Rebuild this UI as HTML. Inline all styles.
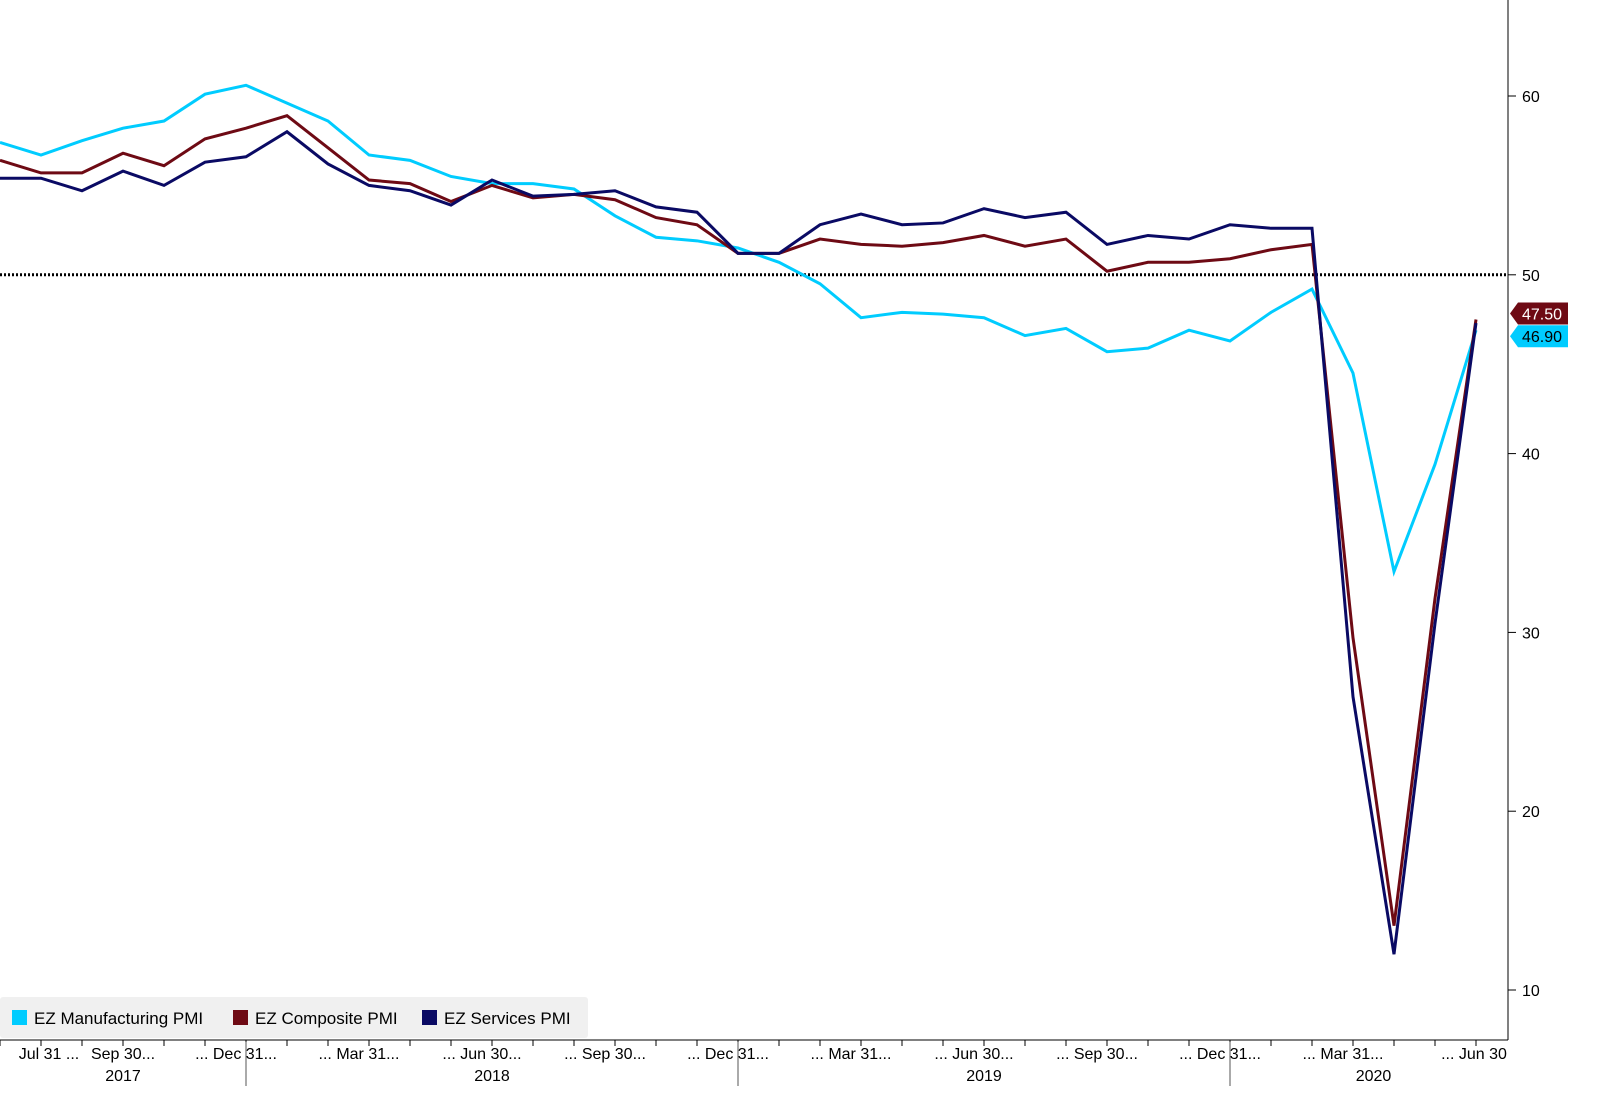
<!DOCTYPE html>
<html><head><meta charset="utf-8"><style>
body{margin:0;background:#fff;font-family:"Liberation Sans",sans-serif}
svg{display:block}
</style></head><body>
<svg id="c" width="1600" height="1108">
<line x1="1508" y1="0" x2="1508" y2="1040" stroke="#000" stroke-width="1"/>
<line x1="0" y1="1040" x2="1508" y2="1040" stroke="#000" stroke-width="1"/>
<g id="yt"></g><g id="xt"></g>
<line id="ref50" x1="0" x2="1508" stroke="#000" stroke-width="3" stroke-dasharray="2,2"/>
<g id="lines"></g><g id="tags"></g>
<g>
<rect x="0" y="997" width="588" height="41" fill="#f0f0f0" rx="3"/>
<g><rect x="12" y="1010" width="15" height="15" fill="#00ccff"/><text x="34" y="1024" font-size="17" fill="#000">EZ Manufacturing PMI</text></g>
<g><rect x="233" y="1010" width="15" height="15" fill="#6e0a14"/><text x="255" y="1024" font-size="17" fill="#000">EZ Composite PMI</text></g>
<g><rect x="422" y="1010" width="15" height="15" fill="#0a0a64"/><text x="444" y="1024" font-size="17" fill="#000">EZ Services PMI</text></g>
</g>
</svg>
<script>
const manufacturing=[57.4,56.7,57.5,58.2,58.6,60.1,60.6,59.6,58.6,56.7,56.4,55.5,55.1,55.1,54.8,53.3,52.1,51.9,51.5,50.7,49.5,47.6,47.9,47.8,47.6,46.6,47.0,45.7,45.9,46.9,46.3,47.9,49.2,44.5,33.4,39.4,46.9];
const composite=[56.4,55.7,55.7,56.8,56.1,57.6,58.2,58.9,57.1,55.3,55.1,54.1,55.0,54.3,54.5,54.2,53.2,52.8,51.2,51.2,52.0,51.7,51.6,51.8,52.2,51.6,52.0,50.2,50.7,50.7,50.9,51.4,51.7,29.7,13.6,31.9,47.5];
const services=[55.4,55.4,54.7,55.8,55.0,56.3,56.6,58.0,56.2,55.0,54.7,53.9,55.3,54.4,54.5,54.7,53.8,53.5,51.2,51.2,52.8,53.4,52.8,52.9,53.7,53.2,53.5,51.7,52.2,52.0,52.8,52.6,52.6,26.4,12.0,30.5,47.3];
const yTicks=[10,20,30,40,50,60];
const monthLabels=["Jul 31 ...","Sep 30...","... Dec 31...","... Mar 31...","... Jun 30...","... Sep 30...","... Dec 31...","... Mar 31...","... Jun 30...","... Sep 30...","... Dec 31...","... Mar 31...","... Jun 30"];
const monthIdx=[1,3,6,9,12,15,18,21,24,27,30,33,36];
const years=["2017","2018","2019","2020"];
const NS="http://www.w3.org/2000/svg";
const y=v=>990-(v-10)*17.88;
const x=i=>i*41;
function mk(t,a,p){const e=document.createElementNS(NS,t);for(const k in a)e.setAttribute(k,a[k]);p.appendChild(e);return e;}
document.getElementById('ref50').setAttribute('y1',y(50));document.getElementById('ref50').setAttribute('y2',y(50));
const yt=document.getElementById('yt');
yTicks.forEach(v=>{
 const l=mk('line',{x1:1508,x2:1516,y1:y(v),y2:y(v),stroke:'#000'},yt);
 
 
 const t=mk('text',{x:1522,y:y(v)+6,'font-size':16,fill:'#000'},yt);t.textContent=v;
 
 
});
const xt=document.getElementById('xt');
for(let i=0;i<37;i++){const l=mk('line',{x1:x(i),x2:x(i),y1:1040,y2:1046,stroke:'#000'},xt);
 
 }
monthLabels.forEach((s,k)=>{
 let anchor=s.startsWith('...')?'middle':'middle';
 let xx=x(monthIdx[k])-(s.startsWith('...')?10:0)+(k==0?8:0);
 if(k==monthLabels.length-1) xx=x(monthIdx[k])-2;
 const t=mk('text',{x:xx,y:1059,'font-size':16,fill:'#000','text-anchor':anchor},xt);t.textContent=s;
 
 
});
[6,18,30].forEach(i=>{const l=mk('line',{x1:x(i),x2:x(i),y1:1042,y2:1086,stroke:'#555'},xt);
 
 });
const yc=[x(3),x(12),x(24),x(33.5)];
years.forEach((s,k)=>{const t=mk('text',{x:yc[k],y:1081,'font-size':16,fill:'#000','text-anchor':'middle'},xt);t.textContent=s;
 
 });
const lg=document.getElementById('lines');
[[manufacturing,'#00ccff','manufacturing-line'],[composite,'#6e0a14','composite-line'],[services,'#0a0a64','services-line']].forEach(([d,c,n])=>{
 const p=mk('polyline',{points:d.map((v,i)=>x(i)+','+y(v)).join(' '),fill:'none',stroke:c,'stroke-width':3},lg);
 
 
});
const tg=document.getElementById('tags');
[[composite[36],'#6e0a14','#fff','composite-last-value',-6],[manufacturing[36],'#00ccff','#000','manufacturing-last-value',6]].forEach(([v,bg,fg,n,off])=>{
 const cy=y(v)+off;
 const g=mk('g',{},tg);
 
 
 mk('polygon',{points:`1510,${cy} 1518,${cy-11} 1568,${cy-11} 1568,${cy+11} 1518,${cy+11}`,fill:bg},g);
 const t=mk('text',{x:1522,y:cy+6,'font-size':16,fill:fg},g);t.textContent=v.toFixed(2);
});
</script>
</body></html>
